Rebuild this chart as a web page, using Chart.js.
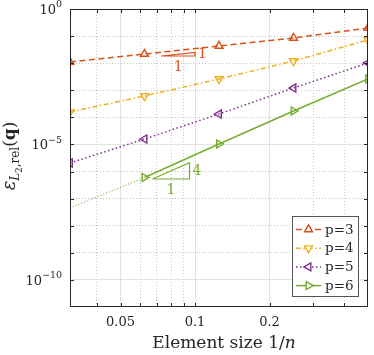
<!DOCTYPE html>
<html><head><meta charset="utf-8">
<script src="https://cdn.jsdelivr.net/npm/chart.js@4/dist/chart.umd.min.js"></script>
<style>html,body{margin:0;padding:0;background:#fff;}</style>
</head><body>
<canvas id="c" width="374" height="355"></canvas>
<script>
// ---------- data ----------
const elementSizes = [1/32, 1/16, 1/8, 1/4, 1/2];
const errorP3 = [1.11e-2, 2.18e-2, 4.31e-2, 8.49e-2, 1.99e-1];
const errorP4 = [1.58e-4, 6.14e-4, 2.61e-3, 1.20e-2, 7.18e-2];
const errorP5 = [2.07e-6, 1.59e-5, 1.33e-4, 1.21e-3, 1.02e-2];
const errorP6 = [null, 6.03e-7, 1.04e-5, 1.72e-4, 2.61e-3];
const extrapSizesP6 = [1/32, 1/16];
const extrapErrorP6 = [4.51e-8, 6.03e-7];
const seriesLabels = ['p=3', 'p=4', 'p=5', 'p=6'];
const xTickValues = [0.04, 0.05, 0.06, 0.07, 0.08, 0.09, 0.1, 0.2, 0.3, 0.4];
const xLabeledValues = [0.05, 0.1, 0.2];
const xTickLabels = ['0.05', '0.1', '0.2'];
const yTickExponents = [0, -1, -2, -3, -4, -5, -6, -7, -8, -9, -10];
const yLabeledExponents = [0, -5, -10];
const slopeXStart = [0.073, 0.0673];
const slopeXEnd = [0.1, 0.095];
const slopeYBase = [1.84e-2, 5.31e-7];
const slopeOrders = [1, 4];
const slopeRunLabels = ['1', '1'];
const slopeRiseLabels = ['1', '4'];

// ---------- styles ----------
const COLORS = ['#D95319', '#EDB120', '#7E2F8E', '#77AC30'];
const DASHES = [[6, 3.5], [5, 2.5, 1.5, 2.5], [1.5, 2.5], []];
const ROTATIONS = [0, 180, 270, 90];
const SERIF = '"DejaVu Serif", serif';
const AXIS_COLOR = '#262626';

const toXY = (xs, ys) => xs.map((x, i) => ({x, y: ys[i]})).filter(d => d.y != null);
const seriesValues = [errorP3, errorP4, errorP5, errorP6];

const datasets = seriesValues.map((vals, i) => ({
  label: seriesLabels[i],
  data: toXY(elementSizes, vals),
  borderColor: COLORS[i],
  borderWidth: 1.5,
  borderDash: DASHES[i],
  pointStyle: 'triangle',
  rotation: ROTATIONS[i],
  pointRadius: 4.6,
  pointBorderWidth: 1.4,
  pointBorderColor: COLORS[i],
  pointBackgroundColor: 'rgba(255,255,255,0)',
  fill: false, tension: 0, inLegend: true
}));
datasets.push({
  label: 'p=6 extrapolation',
  data: toXY(extrapSizesP6, extrapErrorP6),
  borderColor: COLORS[3], borderWidth: 1.1, borderDash: [1, 2],
  pointRadius: 0, fill: false, tension: 0, inLegend: false
});
const slopeColorIdx = [0, 3];
slopeOrders.forEach((k, i) => {
  const x1 = slopeXStart[i], x2 = slopeXEnd[i], y0 = slopeYBase[i];
  const y1 = y0 * Math.pow(x2 / x1, k);
  datasets.push({
    label: 'slope ' + k,
    data: [{x: x1, y: y0}, {x: x2, y: y0}, {x: x2, y: y1}, {x: x1, y: y0}],
    borderColor: COLORS[slopeColorIdx[i]], borderWidth: 1.2, pointRadius: 0,
    fill: false, tension: 0, inLegend: false
  });
});

const near = (a, b) => Math.abs(Math.log10(a) - Math.log10(b)) < 1e-6;
const isXMajor = v => xLabeledValues.some(m => near(m, v));
const isYMajor = v => yLabeledExponents.some(e => near(Math.pow(10, e), v));

function runsWidth(ctx, runs) {
  let w = 0;
  runs.forEach(r => { ctx.font = r.font; w += ctx.measureText(r.text).width; });
  return w;
}
function drawRuns(ctx, runs, x, y, align) {
  const w = runsWidth(ctx, runs);
  let cx = align === 'right' ? x - w : align === 'center' ? x - w / 2 : x;
  ctx.textAlign = 'left'; ctx.textBaseline = 'alphabetic';
  runs.forEach(r => {
    ctx.font = r.font;
    ctx.fillText(r.text, cx, y + (r.dy || 0));
    cx += ctx.measureText(r.text).width;
  });
}

const framePlugin = {
  id: 'frame',
  afterDraw(chart) {
    const {ctx, chartArea: a, scales: {x, y}} = chart;
    ctx.save();
    // box
    ctx.strokeStyle = AXIS_COLOR; ctx.lineWidth = 1; ctx.setLineDash([]);
    ctx.strokeRect(a.left + 0.5, a.top + 0.5, a.right - a.left - 1, a.bottom - a.top - 1);
    // inward ticks
    const TL = 4;
    ctx.beginPath();
    x.ticks.forEach(t => {
      const px = Math.round(x.getPixelForValue(t.value)) + 0.5;
      ctx.moveTo(px, a.bottom); ctx.lineTo(px, a.bottom - TL);
      ctx.moveTo(px, a.top); ctx.lineTo(px, a.top + TL);
    });
    y.ticks.forEach(t => {
      const py = Math.round(y.getPixelForValue(t.value)) + 0.5;
      ctx.moveTo(a.left, py); ctx.lineTo(a.left + TL, py);
      ctx.moveTo(a.right, py); ctx.lineTo(a.right - TL, py);
    });
    ctx.stroke();

    // y tick labels 10^e
    ctx.fillStyle = AXIS_COLOR;
    yLabeledExponents.forEach(e => {
      const py = y.getPixelForValue(Math.pow(10, e));
      const exp = e === 0 ? '0' : '\u2212' + Math.abs(e);
      drawRuns(ctx, [
        {text: '10', font: '13px ' + SERIF},
        {text: exp, font: '9.5px ' + SERIF, dy: -6.5}
      ], a.left - 8, py + 4.6, 'right');
    });

    // x axis title
    drawRuns(ctx, [
      {text: 'Element size 1/', font: '17px ' + SERIF},
      {text: 'n', font: 'italic 17px ' + SERIF}
    ], 224, 348, 'center');

    // y axis title (rotated)
    ctx.save();
    ctx.translate(15, 156);
    ctx.rotate(-Math.PI / 2);
    drawRuns(ctx, [
      {text: '\u03B5', font: 'italic 18px ' + SERIF},
      {text: 'L', font: 'italic 12px ' + SERIF, dy: 4},
      {text: '2', font: '8.5px ' + SERIF, dy: 6.5},
      {text: ',rel', font: '12px ' + SERIF, dy: 4},
      {text: '(', font: '17px ' + SERIF},
      {text: 'q', font: 'bold 17px ' + SERIF},
      {text: ')', font: '17px ' + SERIF}
    ], 0, 0, 'center');
    ctx.restore();

    // slope triangle labels
    slopeOrders.forEach((k, i) => {
      const x1 = slopeXStart[i], x2 = slopeXEnd[i], y0 = slopeYBase[i];
      const y1 = y0 * Math.pow(x2 / x1, k);
      const pxMid = x.getPixelForValue(Math.sqrt(x1 * x2));
      const px2 = x.getPixelForValue(x2);
      const pyB = y.getPixelForValue(y0), pyT = y.getPixelForValue(y1);
      ctx.fillStyle = COLORS[slopeColorIdx[i]];
      ctx.font = '14px ' + SERIF;
      ctx.textAlign = 'center'; ctx.textBaseline = 'middle';
      ctx.fillText(slopeRunLabels[i], pxMid, pyB + 11);
      ctx.textAlign = 'left';
      ctx.fillText(slopeRiseLabels[i], px2 + 3, (pyB + pyT) / 2);
    });

    // legend
    const lx = 292, ly = 216, lw = 66, lh = 80;
    ctx.fillStyle = '#fff';
    ctx.fillRect(lx, ly, lw, lh);
    ctx.strokeStyle = '#555'; ctx.lineWidth = 1;
    ctx.strokeRect(lx + 0.5, ly + 0.5, lw, lh);
    const legendSets = chart.data.datasets.filter(d => d.inLegend);
    legendSets.forEach((d, i) => {
      const cy = ly + 13.5 + i * 18.7;
      ctx.strokeStyle = d.borderColor; ctx.lineWidth = d.borderWidth;
      ctx.setLineDash(d.borderDash || []);
      ctx.beginPath(); ctx.moveTo(lx + 4, cy); ctx.lineTo(lx + 29, cy); ctx.stroke();
      ctx.setLineDash([]);
      ctx.fillStyle = '#fff'; ctx.lineWidth = d.pointBorderWidth;
      Chart.helpers.drawPoint(ctx, {pointStyle: 'triangle', rotation: d.rotation, radius: d.pointRadius, borderWidth: d.pointBorderWidth}, lx + 16.5, cy);
      ctx.fillStyle = AXIS_COLOR; ctx.font = '13.5px ' + SERIF;
      ctx.textAlign = 'left'; ctx.textBaseline = 'middle';
      ctx.fillText(d.label, lx + 33, cy + 0.5);
    });
    ctx.restore();
  }
};

new Chart(document.getElementById('c'), {
  type: 'line',
  data: {datasets},
  plugins: [framePlugin],
  options: {
    responsive: false, animation: false, devicePixelRatio: 1,
    layout: {padding: {top: 9, right: 6, left: 0, bottom: 0}},
    plugins: {legend: {display: false}, tooltip: {enabled: false}},
    scales: {
      x: {
        type: 'logarithmic', min: 1/32, max: 0.5,
        afterBuildTicks: s => { s.ticks = xTickValues.map(v => ({value: v, major: isXMajor(v)})); },
        afterFit: s => { s.height = 48; },
        ticks: {
          autoSkip: false, maxRotation: 0, minRotation: 0, padding: 8,
          color: AXIS_COLOR, font: {family: 'DejaVu Serif', size: 13},
          callback: (v) => { const k = xLabeledValues.findIndex(m => near(m, v)); return k >= 0 ? xTickLabels[k] : ''; }
        },
        grid: {
          drawTicks: false, lineWidth: 1,
          color: c => (c.tick && c.tick.major) ? '#e2e2e2' : '#c4c4c4'
        },
        border: {display: false, dash: c => (c.tick && !c.tick.major) ? [1, 2] : []}
      },
      y: {
        type: 'logarithmic', min: 1e-11, max: 1,
        afterBuildTicks: s => { s.ticks = yTickExponents.map(e => { const v = Math.pow(10, e); return {value: v, major: isYMajor(v)}; }); },
        afterFit: s => { s.width = 70; },
        ticks: {display: false, autoSkip: false},
        grid: {
          drawTicks: false, lineWidth: 1,
          color: c => (c.tick && c.tick.major) ? '#e2e2e2' : '#c4c4c4'
        },
        border: {display: false, dash: c => (c.tick && !c.tick.major) ? [1, 2] : []}
      }
    }
  }
});
</script>
</body></html>
